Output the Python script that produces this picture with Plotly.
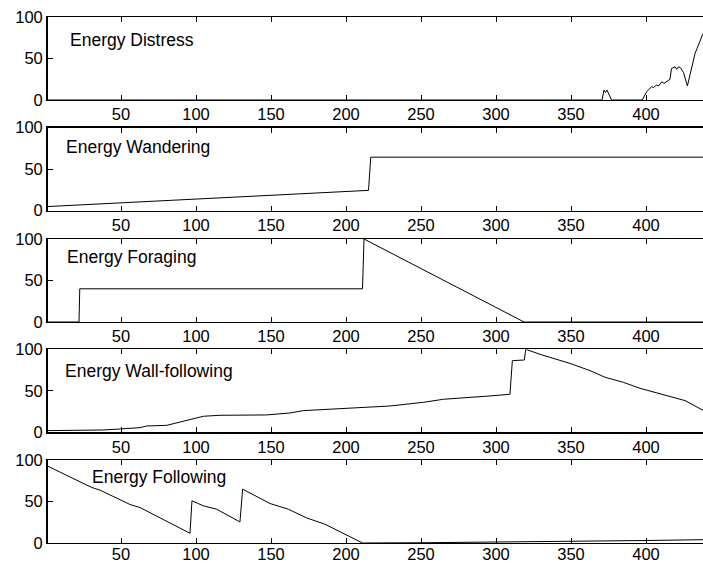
import plotly.graph_objects as go

# ---- data ----
titles = ["Energy Distress", "Energy Wandering", "Energy Foraging",
          "Energy Wall-following", "Energy Following"]

distress_x = [1, 103, 370.7, 372, 373, 374, 375, 377, 397.5, 400.4, 402, 403.8, 405, 407, 408.5,
              410.5, 412, 414.9, 416, 417, 418, 419.4, 420.5, 421.6, 423, 425, 427.6, 429,
              430.5, 431.5, 432.7, 434, 436, 437.8, 438]
distress_y = [0, 0, 0, 12, 9, 12, 8, 0, 0, 10, 13, 16, 15, 18, 17,
              22, 20, 24, 25, 38, 39, 40, 37, 40, 39, 33, 17, 28,
              42, 49, 56, 62, 70, 78, 80]

wander_x = [1, 215, 216.5, 438]
wander_y = [5, 24.5, 64.5, 64.5]

forage_x = [1, 22, 22.5, 211, 212, 298.2, 318.7, 438]
forage_y = [0, 0, 40, 40, 100, 19, 0, 0]

wall_x = [1, 38.2, 49.3, 62.7, 67.1, 80.5, 104.9, 116, 147.1, 162.7, 171.5, 184.9, 202.7,
          216, 229.3, 251.5, 264.9, 296, 309.3, 310.9, 318.9, 319.8, 329.3, 349.3, 362.7,
          372.7, 384.9, 396, 411.5, 426, 438]
wall_y = [2, 2.8, 4, 5.6, 7.6, 8.4, 19.3, 20.5, 20.9, 23.3, 26.1, 27.3, 29.7,
          30.5, 31.7, 36.1, 39.8, 43.8, 45.8, 86.3, 87.1, 100, 94, 83, 74.3,
          66.3, 60.2, 53, 45.8, 38.2, 26.5]

follow_x = [1, 16, 30.5, 36, 56, 62.7, 78.2, 96, 97.3, 104.9, 113.8, 129.3, 131.1, 149.3,
            161.6, 173.8, 186, 198.2, 211.1, 250, 300, 350, 400, 438]
follow_y = [92.7, 79.8, 66.9, 63.7, 46.4, 42.7, 28.6, 11.7, 50.8, 44.8, 40.7, 25.4, 64.9, 47.6,
            40.7, 30.2, 22.6, 11.3, 0, 0.3, 1, 2, 3, 4]

xticks = [50, 100, 150, 200, 250, 300, 350, 400]
yticks = [0, 50, 100]

series = [(distress_x, distress_y), (wander_x, wander_y), (forage_x, forage_y),
          (wall_x, wall_y), (follow_x, follow_y)]

# ---- layout geometry (page pixels) ----
W, H = 703, 564
panel_tops = [17, 127.7, 239, 349.3, 460]
panel_h = 83
x_left = 47.5
label_left = [68, 64, 65, 63, 90]
label_mid = [40, 147, 257, 371, 477]
xlabel_standoff = [-1, -1, -1, -1, -4]

FONT = "Liberation Sans, Arial, Helvetica, sans-serif"


def px_x(p):
    return p / W


def px_y(p):
    return (H - p) / H


fig = go.Figure()
layout = dict(
    width=W, height=H,
    margin=dict(l=0, r=0, t=0, b=0, autoexpand=False),
    paper_bgcolor="white", plot_bgcolor="white",
    showlegend=False,
    font=dict(family=FONT, size=16.5, color="black"),
    annotations=[],
)

for i, ((xs, ys), title) in enumerate(zip(series, titles)):
    n = "" if i == 0 else str(i + 1)
    fig.add_trace(go.Scatter(x=xs, y=ys, mode="lines",
                             line=dict(color="black", width=1),
                             xaxis="x" + n, yaxis="y" + n, hoverinfo="skip"))
    top = panel_tops[i]
    bot = top + panel_h
    layout["xaxis" + n] = dict(
        domain=[px_x(x_left), 1.0], anchor="y" + n, range=[1, 438],
        tickvals=xticks, ticktext=[str(v) for v in xticks],
        ticks="inside", ticklen=5, tickwidth=1, tickcolor="black",
        showline=True, linecolor="black", linewidth=1.4, mirror="ticks",
        showgrid=False, zeroline=False, fixedrange=True, automargin=False,
        ticklabeloverflow="allow", ticklabelstandoff=xlabel_standoff[i],
        tickfont=dict(size=16.5, family=FONT, color="black"),
    )
    layout["yaxis" + n] = dict(
        domain=[px_y(bot), px_y(top)], anchor="x" + n, range=[0, 100],
        tickvals=yticks, ticktext=[str(v) for v in yticks],
        ticks="inside", ticklen=5, tickwidth=1, tickcolor="black",
        showline=True, linecolor="black", linewidth=1.4, mirror=False,
        showgrid=False, zeroline=False, fixedrange=True, automargin=False,
        ticklabeloverflow="allow",
        tickfont=dict(size=16.5, family=FONT, color="black"),
    )
    layout["annotations"].append(dict(
        text=title, xref="paper", yref="paper",
        x=px_x(label_left[i]), y=px_y(label_mid[i]),
        xanchor="left", yanchor="middle", showarrow=False,
        font=dict(size=17.5, family=FONT, color="black"),
    ))

fig.update_layout(**layout)

# remove the browser's default page margin so the figure fills the window exactly
page_fix = ("document.body.style.margin='0';"
            "document.documentElement.style.overflow='hidden';"
            "document.body.style.overflow='hidden';")
fig.write_html("out.html", post_script=page_fix,
               config={"displayModeBar": False, "staticPlot": True})
